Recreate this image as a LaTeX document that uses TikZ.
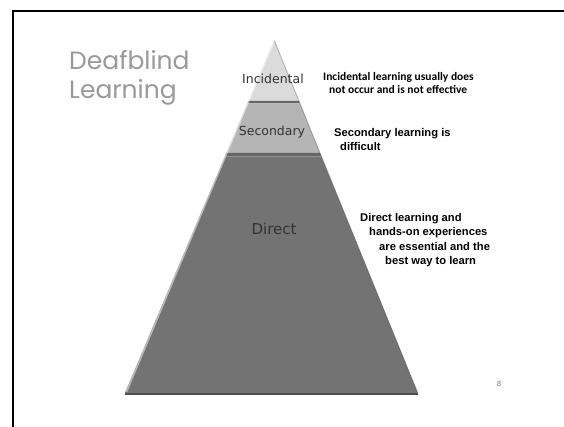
\documentclass[tikz,border=0pt]{standalone}
\usepackage{fontspec}
\setmainfont{DejaVu Sans}
\newfontfamily\titlefont{Poppins}
\newfontfamily\notefont{Liberation Sans}
\newfontfamily\calfont{Carlito}
\usetikzlibrary{calc}
\definecolor{toplayer}{gray}{0.86}
\definecolor{midlayer}{gray}{0.71}
\definecolor{lowlayer}{gray}{0.45}
\definecolor{seam}{gray}{0.4}
\definecolor{titlegray}{gray}{0.6}
\tikzset{
  layerlabel/.style={text=black!80, inner sep=0pt},
  note/.style={font=\notefont\bfseries\fontsize{11.2}{14.5}\selectfont, align=left, anchor=north west, inner sep=0pt},
}

\begin{document}
\begin{tikzpicture}[x=1pt,y=-1pt]
        \useasboundingbox (0,0) rectangle (564,427);
        % slide frame
        \draw [line width=2pt] (13,427) -- (13,11) -- (564,11);
        % pyramid layers
        \fill [toplayer] (274,40) -- (298.9,101) -- (248.3,101) -- cycle;
        \fill [seam] (248.3,101) -- (298.9,101) -- (300.1,103.5) -- (247.2,103.5) -- cycle;
        \fill [midlayer] (247.2,103.5) -- (300.1,103.5) -- (320.1,153) -- (226.3,153) -- cycle;
        \fill [seam] (226.3,153) -- (320.1,153) -- (321.5,156.5) -- (224.8,156.5) -- cycle;
        \fill [lowlayer] (224.8,156.5) -- (321.5,156.5) -- (418,393) -- (125,393) -- cycle;
        \fill [black!70] (125,392.5) rectangle (418,395);
        % soft edge highlights
        \draw [white, opacity=.5, line width=1.5pt] (274,41) -- (126.5,392);
        \draw [black!60, opacity=.4, line width=1pt] (274.5,41) -- (417,392);
        % title
        \node [text=titlegray, align=left, font=\titlefont\fontsize{25}{29}\selectfont, anchor=north west, inner sep=0pt] (title) at (69,50) {Deafblind\\Learning};
        % layer labels
        \node [layerlabel, font=\fontsize{12.5}{14}\selectfont] (incidental) at (273,79) {Incidental};
        \node [layerlabel, font=\fontsize{12.5}{14}\selectfont] (secondary) at (272,132) {Secondary};
        \node [layerlabel, font=\fontsize{15}{17}\selectfont] (direct) at (274,229) {Direct};
        % notes
        \node [note, font=\calfont\bfseries\fontsize{11.5}{13.5}\selectfont] (incnote) at (323,72) {Incidental learning usually does\\\hspace*{6pt}not occur and is not effective};
        \node [note, font=\notefont\bfseries\fontsize{11.2}{14}\selectfont] (secnote) at (334,128) {Secondary learning is\\\hspace*{6pt}difficult};
        \node [note] (dirnote) at (360,213) {Direct learning and\\\hspace*{9pt}hands-on experiences\\\hspace*{19pt}are essential and the\\\hspace*{25pt}best way to learn};
        % page number
        \node [text=black!50, font=\fontsize{7}{8}\selectfont] (pagenum) at (499,384) {8};
    \end{tikzpicture}
\end{document}
